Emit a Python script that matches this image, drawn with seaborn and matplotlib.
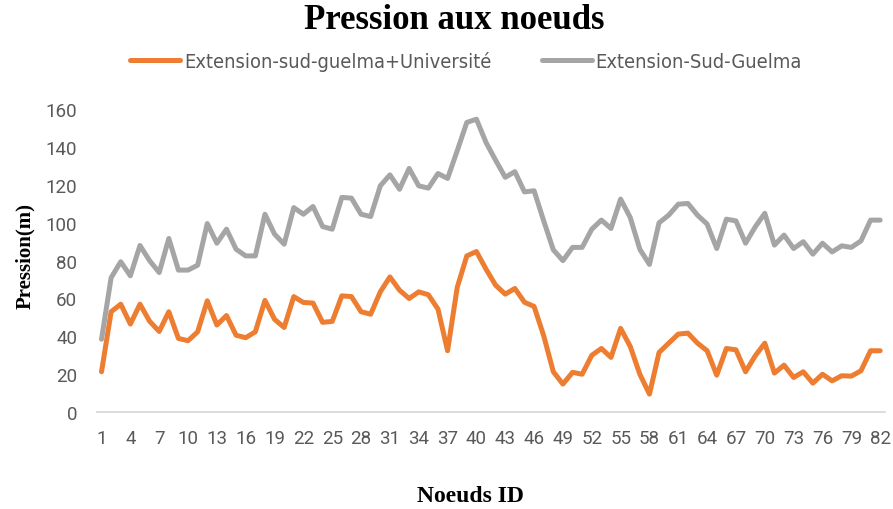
import matplotlib
matplotlib.use("Agg")
import matplotlib.pyplot as plt
from matplotlib import font_manager
from matplotlib.font_manager import FontProperties
import pandas as pd
import seaborn as sns

# Node pressures (m) for the two network configurations
noeuds = list(range(1, 83))
ext_univ = [
    21.3, 53, 57, 46.5, 57, 48, 42.6, 53, 38.9, 37.7,
    42.4, 58.8, 46, 51, 40.6, 39.3, 42.4, 59, 49, 44.7,
    61, 57.9, 57.6, 47.4, 47.9, 61.4, 61, 53, 51.7, 63.5,
    71.4, 64.4, 60, 63.5, 62, 54.4, 32.4, 65.8, 82.5, 84.8,
    75.5, 67, 62.3, 65.3, 58, 55.8, 40.3, 21.3, 14.8, 21,
    20, 30, 33.6, 28.9, 44.2, 34.7, 20, 9.5, 31.5, 36.4,
    41.2, 41.7, 36.4, 32.4, 19.5, 33.6, 32.9, 21.3, 29.7, 36.4,
    20.6, 24.8, 18.3, 21.3, 15.3, 20, 16.5, 19.2, 19, 21.8,
    32.4, 32.4,
]
ext_sud = [
    38.5, 71, 79.4, 72, 88, 80, 73.7, 91.7, 75, 75,
    77.6, 99.6, 89.2, 96.6, 86, 82.5, 82.5, 104.5, 94, 88.7,
    108, 104.5, 108.6, 98, 96.6, 113.4, 113, 104.5, 103.3, 119.5,
    125.3, 117.7, 128.7, 119.5, 118.3, 126, 123.4, 138, 153, 154.7,
    142.4, 133, 124, 127, 116.3, 116.9, 101, 85.7, 80, 87,
    87, 96.6, 101.4, 97, 112.5, 102.8, 86, 78, 100, 104,
    109.8, 110.2, 104, 99.3, 86.4, 101.9, 101, 89.2, 97.8, 105,
    88.2, 93.5, 86.4, 90, 83.4, 89.2, 84.6, 87.8, 87, 90.4,
    101.4, 101.4,
]
series_names = ["Extension-sud-guelma+Université", "Extension-Sud-Guelma"]
series_colors = ["#ED7D31", "#A5A5A5"]
y_ticks = [0, 20, 40, 60, 80, 100, 120, 140, 160]

df = pd.DataFrame({
    "Noeud": noeuds * 2,
    "Pression": ext_univ + ext_sud,
    "Serie": [series_names[0]] * len(noeuds) + [series_names[1]] * len(noeuds),
})

sns.set_theme(style="white")
installed = {f.name for f in font_manager.fontManager.ttflist}
tick_font = "Roboto" if "Roboto" in installed else "DejaVu Sans"
serif_font = "Liberation Serif"
plt.rcParams["font.family"] = [tick_font, "DejaVu Sans"]

# Legend uses a narrow sans face when one is available
legend_prop = None
for f in font_manager.fontManager.ttflist:
    name = f.name.lower()
    narrow = ("narrow" in name or "condensed" in name
              or str(f.stretch) in ("condensed", "semi-condensed", "600", "700"))
    if narrow and "serif" not in name and "mono" not in name \
            and f.weight in (400, "normal", "regular") and f.style == "normal":
        legend_prop = FontProperties(fname=f.fname, size=14.4)
        break
if legend_prop is None:
    legend_prop = FontProperties(family=tick_font, size=14.8)

fig = plt.figure(figsize=(8.93, 5.10), dpi=100)
ax = fig.add_axes([0.1083, 0.190, 0.8827, 0.594])

sns.lineplot(data=df, x="Noeud", y="Pression", hue="Serie",
             palette=dict(zip(series_names, series_colors)),
             linewidth=3.6, ax=ax, legend=False, sort=False)
for line in ax.lines:
    line.set_solid_joinstyle("round")
    line.set_solid_capstyle("round")
    line.set_clip_on(False)

ax.set_xlim(0.5, 82.5)
ax.set_ylim(0, 160)
ax.set_yticks(y_ticks)
ax.set_xticks(noeuds[::3])
ax.tick_params(axis="both", length=0, labelsize=13.5, labelcolor="#595959")
ax.tick_params(axis="x", pad=12)
ax.tick_params(axis="y", pad=14)
for s in ["top", "right", "left"]:
    ax.spines[s].set_visible(False)
ax.spines["bottom"].set_color("#D9D9D9")
ax.spines["bottom"].set_linewidth(1.3)
ax.set_xlabel("")
ax.set_ylabel("")

fig.text(0.509, 0.960, "Pression aux noeuds", ha="center", va="center",
         family=serif_font, fontweight="bold", fontsize=25, color="black")
fig.text(0.527, 0.026, "Noeuds ID", ha="center", va="center",
         family=serif_font, fontweight="bold", fontsize=17, color="black")
fig.text(0.028, 0.498, "Pression(m)", ha="center", va="center", rotation=90,
         family=serif_font, fontweight="bold", fontsize=15, color="black")

handles = [plt.Line2D([], [], color=c, linewidth=3.6) for c in series_colors]
leg = fig.legend(handles, series_names, loc="center", bbox_to_anchor=(0.522, 0.878),
                 ncol=2, frameon=False, handlelength=2.5, handletextpad=0.2,
                 columnspacing=2.5, prop=legend_prop)
for t in leg.get_texts():
    t.set_color("#595959")

fig.savefig("out.png", dpi=100)
